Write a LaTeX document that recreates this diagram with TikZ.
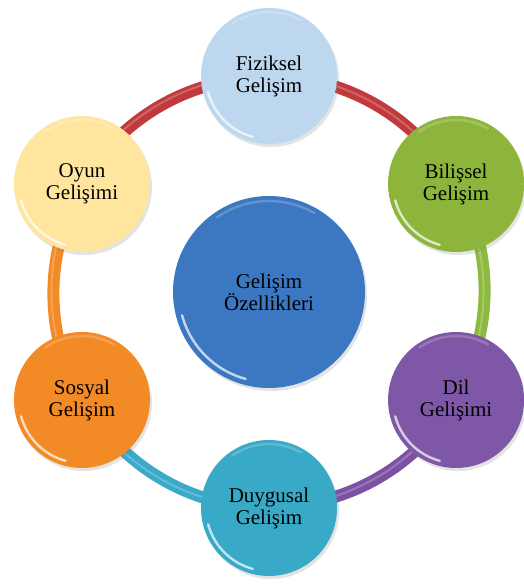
\documentclass[tikz,border=0pt]{standalone}
\usepackage{fontspec}
\setmainfont{Liberation Serif}
\usetikzlibrary{shadows,calc}
\definecolor{cFiz}{HTML}{BDD7EE}
\definecolor{cBil}{HTML}{8DB53C}
\definecolor{cDil}{HTML}{7E57A6}
\definecolor{cDuy}{HTML}{38A9C6}
\definecolor{cSos}{HTML}{F28A26}
\definecolor{cOyu}{HTML}{FFE59D}
\definecolor{cMer}{HTML}{3C78C2}
\definecolor{cRed}{HTML}{C2393B}
\definecolor{cGrn}{HTML}{8DBA3E}
\definecolor{cPur}{HTML}{7B52A3}
\definecolor{cTea}{HTML}{3AAAC8}
\definecolor{cOra}{HTML}{F28A26}
\begin{document}
\begin{tikzpicture}[x=1pt,y=1pt,
  ball/.style={circle, minimum size=136pt, inner sep=0pt, align=center,
    font=\fontsize{21}{22}\selectfont, text=black,
    drop shadow={opacity=0.22, shadow xshift=2pt, shadow yshift=-3pt}},
  bigball/.style={ball, minimum size=192pt},
  ringline/.style={line width=12pt},
  ringshine/.style={line width=2pt, white, opacity=0.22},
  shine/.style={white, line width=2.4pt, line cap=round, opacity=0.7}]
\useasboundingbox (0,0) rectangle (523,588);
\coordinate (c) at (269,296);
% positions of the ring nodes
\coordinate (pFiz) at ($(c)+(90:216)$);
\coordinate (pBil) at ($(c)+(30:216)$);
\coordinate (pDil) at ($(c)+(-30:216)$);
\coordinate (pDuy) at ($(c)+(-90:216)$);
\coordinate (pSos) at ($(c)+(-150:216)$);
\coordinate (pOyu) at ($(c)+(150:216)$);
% ring segments
\draw[ringline, cRed] (pOyu) arc[start angle=150, end angle=90, radius=213];
\draw[ringline, cRed] (pFiz) arc[start angle=90, end angle=30, radius=213];
\draw[ringline, cGrn] (pBil) arc[start angle=30, end angle=-30, radius=213];
\draw[ringline, cPur] (pDil) arc[start angle=-30, end angle=-90, radius=213];
\draw[ringline, cTea] (pDuy) arc[start angle=-90, end angle=-150, radius=213];
\draw[ringline, cOra] (pSos) arc[start angle=-150, end angle=-210, radius=213];
\draw[ringshine] ($(pOyu)+(-1.5,0.9)$) arc[start angle=150, end angle=-210, radius=216];
% nodes
\node[bigball, fill=cMer] (mer) at (c) {Gelişim\\Özellikleri};
\node[ball, fill=cFiz] (fiz) at (pFiz) {Fiziksel\\Gelişim};
\node[ball, fill=cBil] (bil) at (pBil) {Bilişsel\\Gelişim};
\node[ball, fill=cDil] (dil) at (pDil) {Dil\\Gelişimi};
\node[ball, fill=cDuy] (duy) at (pDuy) {Duygusal\\Gelişim};
\node[ball, fill=cSos] (sos) at (pSos) {Sosyal\\Gelişim};
\node[ball, fill=cOyu] (oyu) at (pOyu) {Oyun\\Gelişimi};
% highlights
\foreach \n in {fiz,bil,dil,duy,sos,oyu}{
  \draw[shine] ($(\n.center)+(195:63)$) arc[start angle=195, end angle=255, radius=63];
  \draw[shine, opacity=0.2] ($(\n.center)+(60:64)$) arc[start angle=60, end angle=125, radius=64];
}
\draw[shine] ($(mer.center)+(195:90)$) arc[start angle=195, end angle=255, radius=90];
\draw[shine, opacity=0.2] ($(mer.center)+(60:91)$) arc[start angle=60, end angle=125, radius=91];
\end{tikzpicture}
\end{document}
